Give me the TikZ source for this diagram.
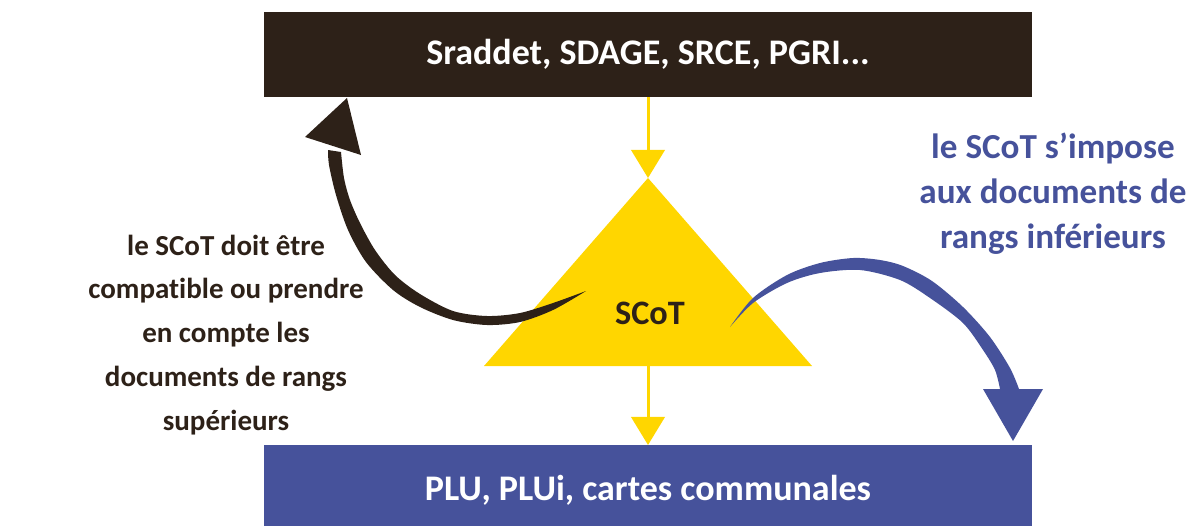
\documentclass[tikz,border=0pt]{standalone}
\usepackage{fontspec}
\setmainfont{Carlito}[Ligatures=NoCommon]
\usetikzlibrary{arrows.meta, positioning, calc}
\definecolor{rankbrown}{RGB}{45,33,24}
\definecolor{rankblue}{RGB}{70,82,155}
\definecolor{scotyellow}{RGB}{255,214,0}
\tikzset{
    rankbox/.style={rectangle, inner sep=0pt, outer sep=0pt, minimum width=15.36cm, text=white, font=\fontsize{20.5}{24}\selectfont\bfseries},
    sidenote/.style={align=center, inner sep=0pt, font=\bfseries},
    downarrow/.style={-{Triangle[width=19pt, length=16pt]}, line width=1.7pt, scotyellow},
}
\begin{document}
\begin{tikzpicture}[x=0.02cm, y=-0.02cm]
            \clip (0,0) rectangle (1202,525);
            \node[rankbox, fill=rankbrown, minimum height=1.7cm] (sup) at (648,54.5) {Sraddet, SDAGE, SRCE, PGRI...};
            \node[rankbox, fill=rankblue, minimum height=1.8cm] (plu) at (648,490) {PLU, PLUi, cartes communales};
            % triangle du SCoT
            \coordinate (apex) at (648,178);
            \coordinate (base) at (648,366);
            \fill[scotyellow] (apex) -- (812,366) -- (484,366) -- cycle;
            \node[font=\fontsize{19.5}{23}\selectfont\bfseries, text=rankbrown] (scot) at (650,313) {SCoT};
            \draw[downarrow] (sup.south) -- (apex);
            \draw[downarrow] (base) -- (plu.north);
            % fleche vers le haut
            \fill[rankbrown] plot[smooth] coordinates {(586,291) (553,310) (520,322) (487,325) (453,320) (420,307) (393,290) (366,262) (348,230) (336,195) (329,165) (328,150)}
                -- plot[smooth] coordinates {(341,152) (344,178) (350,200) (360,223) (375,250) (395,275) (420,294) (453,311) (487,316) (520,313) (553,303) (586,291)} -- cycle;
            \fill[rankbrown] (305,137) -- (347,98) -- (361,155) -- cycle;
            % fleche vers le bas
            \fill[rankblue] plot[smooth] coordinates {(730,327) (753,298) (787,275) (820,263) (853,258) (880,260) (903,266) (932,281) (963,307) (990,337) (1010,368) (1019,389)}
                -- plot[smooth] coordinates {(1000,389) (995,370) (983,350) (963,323) (930,298) (900,280) (860,270) (820,273) (787,283) (753,303) (730,327)} -- cycle;
            \fill[rankblue] (983,389) -- (1043,389) -- (1013,441) -- cycle;
            \node[sidenote, text=rankbrown, font=\fontsize{16.5}{25}\selectfont\bfseries] (upnote) at (226,335) {le SCoT doit être\\compatible ou prendre\\en compte les\\documents de rangs\\supérieurs};
            \node[sidenote, text=rankblue, font=\fontsize{20}{25.6}\selectfont\bfseries] (downnote) at (1053,194) {le SCoT s’impose\\aux documents de\\rangs inférieurs};
        \end{tikzpicture}
\end{document}
